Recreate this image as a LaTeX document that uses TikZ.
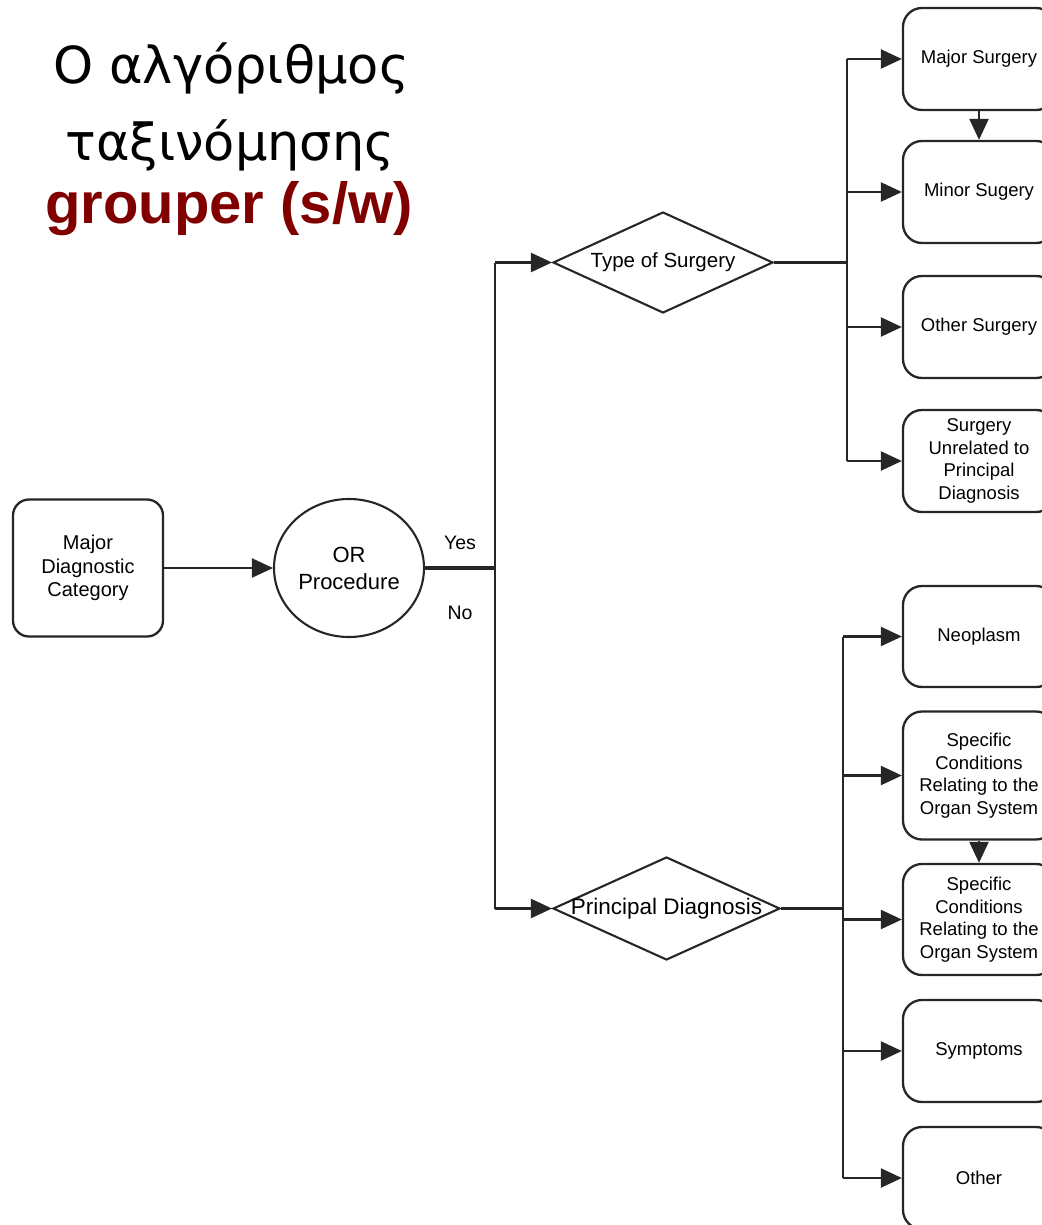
\documentclass[tikz,border=0pt]{standalone}
\usepackage{fontspec}
\setmainfont{Liberation Sans}
\newfontfamily\titlefont{DejaVu Sans}
\usetikzlibrary{arrows.meta,shapes.geometric}
\definecolor{dred}{HTML}{800000}
\definecolor{ln}{HTML}{262626}
\begin{document}
\begin{tikzpicture}[x=1pt,y=-1pt,
  rbox/.style={draw=ln, line width=2.3pt, rounded corners=19pt, minimum width=152pt, align=center, font=\fontsize{18.5}{22.5}\selectfont, inner sep=0pt},
  conn/.style={draw=ln, line width=2.3pt},
  thickconn/.style={draw=ln, line width=3.2pt},
  arr/.style={conn, -{Triangle[length=21pt,width=19pt]}},
  dia/.style={draw=ln, line width=2.1pt, diamond, inner sep=0pt},
  lbl/.style={font=\fontsize{19.5}{22}\selectfont}
]
\useasboundingbox (0,0) rectangle (1041,1225);
% title
\node[anchor=base, font=\titlefont\fontsize{51}{60}\selectfont] (t1) at (231,84) {Ο αλγόριθμος};
\node[anchor=base, font=\titlefont\fontsize{51}{60}\selectfont] (t2) at (230,161) {ταξινόμησης};
\node[anchor=base, font=\bfseries\fontsize{58}{60}\selectfont, text=dred] (t3) at (229,223) {grouper (s/w)};
% left part
\node[draw=ln, line width=2.3pt, rounded corners=16pt, minimum width=150pt, minimum height=137pt, align=center, inner sep=0pt, font=\fontsize{20}{23.5}\selectfont] (mdc) at (88,568) {Major\\Diagnostic\\Category};
\node[draw=ln, line width=2.1pt, ellipse, minimum width=150pt, minimum height=138pt, inner sep=0pt, align=center, font=\fontsize{22}{27}\selectfont] (orp) at (349,568) {OR\\Procedure};
\node[lbl] (yes) at (460,543) {Yes};
\node[lbl] (no) at (460,613) {No};
% diamonds
\node[dia, minimum width=220pt, minimum height=101pt, font=\fontsize{20.5}{24}\selectfont] (ts) at (663,262.5) {\makebox[0pt]{Type of Surgery}};
\node[dia, minimum width=227pt, minimum height=103pt, font=\fontsize{22.5}{26}\selectfont] (pd) at (666.5,908.5) {\makebox[0pt]{Principal Diagnosis}};
% right boxes top
\node[rbox, minimum height=102pt] (ms) at (979,59) {Major Surgery};
\node[rbox, minimum height=102pt] (mi) at (979,192) {Minor Sugery};
\node[rbox, minimum height=102pt] (os) at (979,327) {Other Surgery};
\node[rbox, minimum height=102pt] (su) at (979,461) {Surgery\\Unrelated to\\Principal\\Diagnosis};
% right boxes bottom
\node[rbox, minimum height=101pt] (ne) at (979,636.5) {Neoplasm};
\node[rbox, minimum height=128pt] (sc1) at (979,775.5) {Specific\\Conditions\\Relating to the\\Organ System};
\node[rbox, minimum height=111pt] (sc2) at (979,919.5) {Specific\\Conditions\\Relating to the\\Organ System};
\node[rbox, minimum height=102pt] (sy) at (979,1051) {Symptoms};
\node[rbox, minimum height=102pt] (ot) at (979,1178) {Other};
% junction coordinates
\coordinate (j) at (495,568);
\coordinate (jt) at (495,262.5);
\coordinate (jb) at (495,908.5);
\coordinate (bt) at (847,0);
\coordinate (bb) at (843,0);
% connectors
\draw[arr] (mdc.east) -- (orp.west);
\draw[thickconn] (orp.east) -- (j);
\draw[conn] (jt) -- (jb);
\draw[arr] (jt) -- (ts.west);
\draw[arr] (jb) -- (pd.west);
% top bus
\draw[thickconn] (ts.east) -- (bt |- ts.east);
\draw[conn] (bt |- ms.west) -- (bt |- su.west);
\draw[arr] (bt |- ms.west) -- (ms.west);
\draw[arr] (bt |- mi.west) -- (mi.west);
\draw[arr] (bt |- os.west) -- (os.west);
\draw[arr] (bt |- su.west) -- (su.west);
\draw[arr] (ms.south) -- (mi.north);
% bottom bus
\draw[conn] (pd.east) -- (bb |- pd.east);
\draw[conn] (bb |- ne.west) -- (bb |- ot.west);
\draw[arr] (bb |- ne.west) -- (ne.west);
\draw[arr] (bb |- sc1.west) -- (sc1.west);
\draw[arr] (bb |- sc2.west) -- (sc2.west);
\draw[arr] (bb |- sy.west) -- (sy.west);
\draw[arr] (bb |- ot.west) -- (ot.west);
\draw[arr] (sc1.south) -- (sc2.north);
\end{tikzpicture}
\end{document}
